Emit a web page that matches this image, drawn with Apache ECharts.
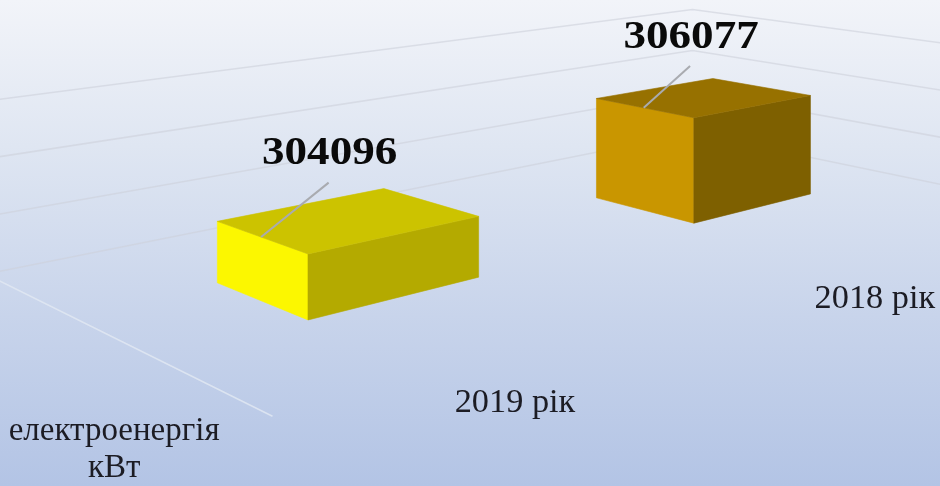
<!DOCTYPE html>
<html>
<head>
<meta charset="utf-8">
<script src="https://cdn.jsdelivr.net/npm/echarts@6/dist/echarts.min.js"></script>
<style>
html,body{margin:0;padding:0;overflow:hidden;}
#chart{width:940px;height:486px;}
</style>
</head>
<body>
<div id="chart"></div>
<script>
// ---- data ----
const categories = ['2019 рік', '2018 рік'];
const values = [304096, 306077];
const seriesLabel = ['електроенергія', 'кВт'];
const valueTicks = [302000, 304000, 306000, 308000];
const AXIS_MIN = 302000;
const AXIS_MAX = 308000;
const AXIS_STEP = 2000;

// ---- styles ----
const faceColors = [
  { side: '#FCF700', front: '#B4AA00', top: '#CCC300' },
  { side: '#C99600', front: '#7E6000', top: '#977100' }
];

// ---- 3D scene (perspective camera, world units) ----
const U_TOTAL = 2.126;   // floor length along category direction
const W_TOTAL = 1.025;   // floor depth along series direction
const Y_TOTAL = 0.35;    // height of the value range (min..max)
const BW = 0.419;        // box width along category direction
const W0 = 0.3575;       // front of box (depth)
const BD = 0.31;         // box depth
const LEAD_DU = 0.16, LEAD_DY = 0.08;
const CAM = { cx: 470, hy: -220, f: 1716, x0: -0.3104, z0: 2.6969,
              ux: 0.7574, uz: 0.6531, wx: -0.6531, wz: 0.7574 };
function project(u, w, y) {
  const X = CAM.x0 + CAM.ux * u + CAM.wx * w;
  const Z = CAM.z0 + CAM.uz * u + CAM.wz * w;
  return [CAM.cx + CAM.f * X / Z, CAM.hy + CAM.f * (1 - y) / Z];
}
function worldY(api, cs, v) {
  const p = api.coord([0, v]);
  return (cs.y + cs.height - p[1]) / cs.height * Y_TOTAL;
}

const SERIF = '"Liberation Serif", "Times New Roman", serif';
const GRID_COLOR = 'rgba(205,209,219,0.6)';

function renderWalls(params, api) {
  const cs = params.coordSys;
  const v = api.value(1);
  const y = worldY(api, cs, v);
  const a = project(0, W_TOTAL, y), b = project(U_TOTAL, W_TOTAL, y), c = project(U_TOTAL, 0, y);
  const children = [
    { type: 'polyline', shape: { points: [a, b, c] }, style: { stroke: GRID_COLOR, lineWidth: 1.5, fill: null } }
  ];
  if (v === AXIS_MIN) {
    const f0 = project(0, 0, 0), f1 = project(0, W_TOTAL, 0);
    children.push({ type: 'line', shape: { x1: f0[0], y1: f0[1], x2: f1[0], y2: f1[1] },
      style: { stroke: 'rgba(225,231,242,0.85)', lineWidth: 1.5 } });
  }
  return { type: 'group', children };
}

function renderSeriesLabel(params, api) {
  const p = project(0, W_TOTAL / 2, 0);
  return {
    type: 'text', x: p[0] + 3, y: p[1] + 114,
    style: { text: seriesLabel.join('\n'), fontFamily: SERIF, fontSize: 33, lineHeight: 37,
             fill: '#1c1c24', align: 'center', verticalAlign: 'middle' }
  };
}

function renderBox(params, api) {
  const cs = params.coordSys;
  const i = api.value(0), v = api.value(1);
  const pTop = api.coord([i, v]);
  const pBase = api.coord([i, AXIS_MIN]);
  const uc = (pTop[0] - cs.x) / cs.width * U_TOTAL;
  const h = (pBase[1] - pTop[1]) / cs.height * Y_TOTAL;
  const u0 = uc - BW / 2, u1 = uc + BW / 2, w0 = W0, w1 = W0 + BD, wm = (w0 + w1) / 2;
  const col = faceColors[params.dataIndex];
  const poly = (pts, fill) => ({ type: 'polygon', shape: { points: pts },
    style: { fill: fill, stroke: fill, lineWidth: 0.6 } });
  const P = project;
  const children = [
    poly([P(u0, w0, 0), P(u0, w1, 0), P(u0, w1, h), P(u0, w0, h)], col.side),
    poly([P(u0, w0, 0), P(u1, w0, 0), P(u1, w0, h), P(u0, w0, h)], col.front),
    poly([P(u0, w0, h), P(u1, w0, h), P(u1, w1, h), P(u0, w1, h)], col.top)
  ];
  const le = P(u0, wm, h), ls = P(u0 + LEAD_DU, wm, h + LEAD_DY);
  children.push({ type: 'line', shape: { x1: le[0], y1: le[1], x2: ls[0], y2: ls[1] },
    style: { stroke: '#a9abb0', lineWidth: 2 } });
  children.push({ type: 'text', x: ls[0] + 1, y: ls[1] - 29, scaleX: 1.1,
    style: { text: String(v), fontFamily: SERIF, fontWeight: 'bold', fontSize: 41,
             fill: '#0a0a0a', align: 'center', verticalAlign: 'middle' } });
  const cl = P(uc, 0, 0);
  children.push({ type: 'text', x: cl[0] - 7, y: cl[1] + 60, scaleX: 1.04,
    style: { text: categories[i], fontFamily: SERIF, fontSize: 33,
             fill: '#1c1c24', align: 'center', verticalAlign: 'middle' } });
  return { type: 'group', children };
}

const chart = echarts.init(document.getElementById('chart'), null, { renderer: 'canvas' });
chart.setOption({
  animation: false,
  backgroundColor: {
    type: 'linear', x: 0, y: 0, x2: 0, y2: 1,
    colorStops: [
      { offset: 0, color: '#f2f4f9' },
      { offset: 0.3, color: '#dfe6f2' },
      { offset: 0.65, color: '#c8d4eb' },
      { offset: 1, color: '#b3c4e5' }
    ]
  },
  grid: { left: 100, right: 100, top: 60, bottom: 60 },
  xAxis: { type: 'category', data: categories, show: false },
  yAxis: { type: 'value', min: AXIS_MIN, max: AXIS_MAX, interval: AXIS_STEP, show: false },
  series: [
    { type: 'custom', name: 'walls', silent: true, clip: false,
      data: valueTicks.map(v => [0, v]), encode: { x: 0, y: 1 }, renderItem: renderWalls, z: 1 },
    { type: 'custom', name: 'series', silent: true, clip: false,
      data: [[0, AXIS_MIN]], encode: { x: 0, y: 1 }, renderItem: renderSeriesLabel, z: 2 },
    { type: 'custom', name: 'електроенергія кВт', silent: true, clip: false,
      data: values.map((v, i) => [i, v]), encode: { x: 0, y: 1 }, renderItem: renderBox, z: 3 }
  ]
});
</script>
</body>
</html>
